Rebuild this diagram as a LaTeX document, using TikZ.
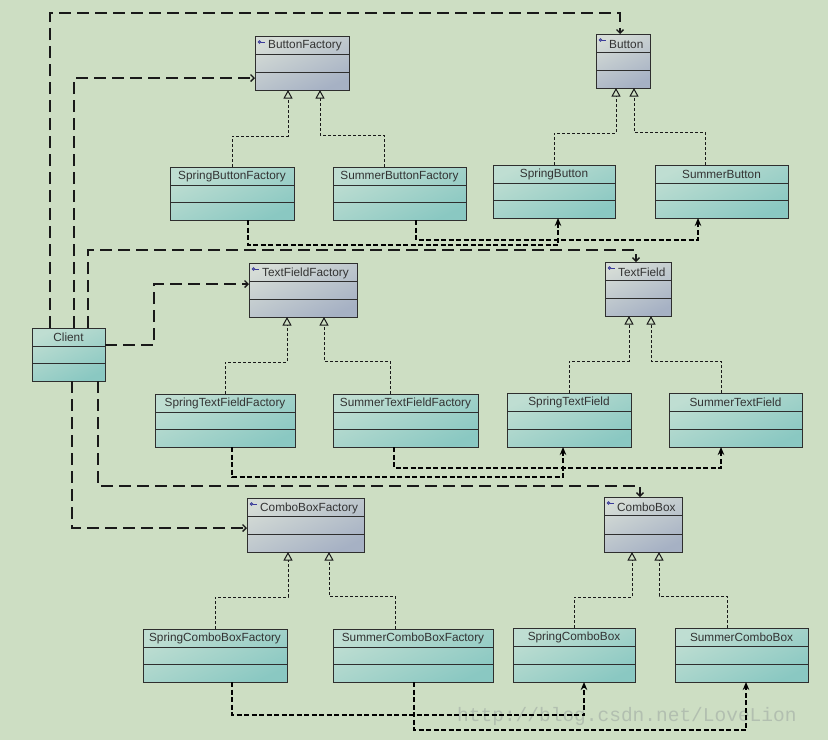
\documentclass[tikz,border=0pt]{standalone}
\usepackage{fontspec}
\setmainfont{Liberation Sans}
\newfontfamily\wmfont{Liberation Mono}
\usetikzlibrary{arrows.meta,calc}
\definecolor{bg}{HTML}{CDDEC3}
\definecolor{ifaceTop}{HTML}{D5DCD6}
\definecolor{ifaceBot}{HTML}{A6B1C4}
\definecolor{clsTop}{HTML}{BFDED2}
\definecolor{clsBot}{HTML}{8AC8C2}
\definecolor{edge}{HTML}{2E2E2E}
\definecolor{icon}{HTML}{3A3A9A}
\definecolor{wmcol}{HTML}{B2BFB0}
\tikzset{
  boxiface/.style={draw=edge, line width=1pt, inner sep=0pt, outer sep=0pt,
    top color=ifaceTop, bottom color=ifaceBot, shading angle=25},
  boxcls/.style={draw=edge, line width=1pt, inner sep=0pt, outer sep=0pt,
    top color=clsTop, bottom color=clsBot, shading angle=25},
  boxline/.style={draw=edge, line width=0.9pt},
  hdr/.style={font=\fontsize{11.8}{13}\selectfont, text=black!80, inner sep=0pt},
  cdep/.style={draw=black!90, line width=1.3pt, dash pattern=on 12pt off 6pt,
    -{Straight Barb[length=3.5pt,width=7pt]}},
  gen/.style={draw=black!90, line width=1pt, dash pattern=on 3pt off 2pt,
    -{Triangle[length=8.5pt,width=9pt,fill=bg]}},
  tdep/.style={draw=black, line width=2pt, dash pattern=on 5pt off 2.5pt,
    -{Stealth[length=8pt,width=6.5pt]}},
}
\newcommand\umlcls[6]{%
  \node[boxcls, minimum width={#4pt-#2pt}, minimum height={#5pt-#3pt}] (#1) at ({(#2+#4)/2},{(#3+#5)/2}) {};
  \draw[boxline] ([yshift=-18pt]#1.north west) -- ([yshift=-18pt]#1.north east);
  \draw[boxline] ([yshift=18pt]#1.south west) -- ([yshift=18pt]#1.south east);
  \node[hdr] (#1-t) at ($(#1.north)+(0,9.5)$) {#6};
}
\newcommand\umliface[6]{%
  \node[boxiface, minimum width={#4pt-#2pt}, minimum height={#5pt-#3pt}] (#1) at ({(#2+#4)/2},{(#3+#5)/2}) {};
  \draw[boxline] ([yshift=-18pt]#1.north west) -- ([yshift=-18pt]#1.north east);
  \draw[boxline] ([yshift=18pt]#1.south west) -- ([yshift=18pt]#1.south east);
  \draw[icon, line width=0.8pt] ($(#1.north west)+(4.5,6)$) circle (1.3pt);
  \draw[icon, line width=0.8pt] ($(#1.north west)+(5.8,6)$) -- ++(4.5,0);
  \node[hdr, anchor=west] (#1-t) at ($(#1.north west)+(13,10)$) {#6};
}
\begin{document}
\begin{tikzpicture}[x=1pt,y=-1pt]
\fill[bg] (0,0) rectangle (828,740);
\useasboundingbox (0,0) rectangle (828,740);

% watermark (behind connectors)
\node[font=\wmfont\fontsize{19.5}{20}\selectfont, text=wmcol, anchor=west, inner sep=0pt] (wm) at (457,716) {http://blog.csdn.net/LoveLion};

% boxes
\umliface{BF}{255}{36}{349}{90}{ButtonFactory}
\umliface{B}{596}{34}{650}{88}{Button}
\umlcls{SBF}{170}{167}{294}{220}{SpringButtonFactory}
\umlcls{SuBF}{333}{167}{466}{220}{SummerButtonFactory}
\umlcls{SB}{493}{165}{615}{218}{SpringButton}
\umlcls{SuB}{655}{165}{788}{218}{SummerButton}
\umlcls{Client}{32}{328}{105}{381}{Client}
\umliface{TFF}{249}{263}{357}{317}{TextFieldFactory}
\umliface{TF}{605}{262}{671}{316}{TextField}
\umlcls{STFF}{155}{394}{295}{447}{SpringTextFieldFactory}
\umlcls{SuTFF}{333}{394}{478}{447}{SummerTextFieldFactory}
\umlcls{STF}{507}{393}{631}{447}{SpringTextField}
\umlcls{SuTF}{669}{393}{802}{447}{SummerTextField}
\umliface{CBF}{247}{498}{364}{552}{ComboBoxFactory}
\umliface{CB}{604}{497}{682}{552}{ComboBox}
\umlcls{SCBF}{143}{629}{287}{682}{SpringComboBoxFactory}
\umlcls{SuCBF}{333}{629}{493}{682}{SummerComboBoxFactory}
\umlcls{SCB}{513}{628}{635}{682}{SpringComboBox}
\umlcls{SuCB}{675}{628}{808}{682}{SummerComboBox}

% client dependencies
\draw[cdep] ([xshift=18pt]Client.north west) -- (50,13) -| ([xshift=-3pt]B.north);
\draw[cdep] ([xshift=42pt]Client.north west) |- ([yshift=-15pt]BF.west);
\draw[cdep] ([xshift=56pt]Client.north west) -- (88,250) -| ([xshift=-2pt]TF.north);
\draw[cdep] ([yshift=9.5pt]Client.east) -- (154,345) |- ([yshift=6pt]TFF.west);
\draw[cdep] ([xshift=66pt]Client.south west) -- (98,486) -| ([xshift=-3pt]CB.north);
\draw[cdep] ([xshift=40pt]Client.south west) |- ([yshift=-3pt]CBF.west);

% generalizations
\draw[gen] (SBF.north) -- (232,136) -| ([xshift=-14pt]BF.south);
\draw[gen] ([xshift=-15.5pt]SuBF.north) -- (384,135) -| ([xshift=18pt]BF.south);
\draw[gen] (SB.north) -- (554,133) -| ([xshift=-7pt]B.south);
\draw[gen] ([xshift=-16.5pt]SuB.north) -- (705,132) -| ([xshift=11pt]B.south);
\draw[gen] (STFF.north) -- (225,362) -| ([xshift=-16pt]TFF.south);
\draw[gen] ([xshift=-15.5pt]SuTFF.north) -- (390,361) -| ([xshift=21pt]TFF.south);
\draw[gen] (STF.north) -- (569,361) -| ([xshift=-9pt]TF.south);
\draw[gen] ([xshift=-14.5pt]SuTF.north) -- (721,361) -| ([xshift=13pt]TF.south);
\draw[gen] (SCBF.north) -- (215,597) -| ([xshift=-17.5pt]CBF.south);
\draw[gen] ([xshift=-18pt]SuCBF.north) -- (395,596) -| ([xshift=23.5pt]CBF.south);
\draw[gen] (SCB.north) -- (574,597) -| ([xshift=-11pt]CB.south);
\draw[gen] ([xshift=-14.5pt]SuCB.north) -- (727,596) -| ([xshift=16pt]CB.south);

% factory -> product dependencies
\draw[tdep] ([xshift=16pt]SBF.south) -- (248,245) -| ([xshift=4pt]SB.south);
\draw[tdep] ([xshift=16.5pt]SuBF.south) -- (416,240) -| ([xshift=-23.5pt]SuB.south);
\draw[tdep] ([xshift=7pt]STFF.south) -- (232,477) -| ([xshift=-6pt]STF.south);
\draw[tdep] ([xshift=-11.5pt]SuTFF.south) -- (394,468) -| ([xshift=-14.5pt]SuTF.south);
\draw[tdep] ([xshift=17pt]SCBF.south) -- (232,715) -| ([xshift=10pt]SCB.south);
\draw[tdep] ([xshift=1pt]SuCBF.south) -- (414,730) -| ([xshift=4.5pt]SuCB.south);
\end{tikzpicture}
\end{document}
